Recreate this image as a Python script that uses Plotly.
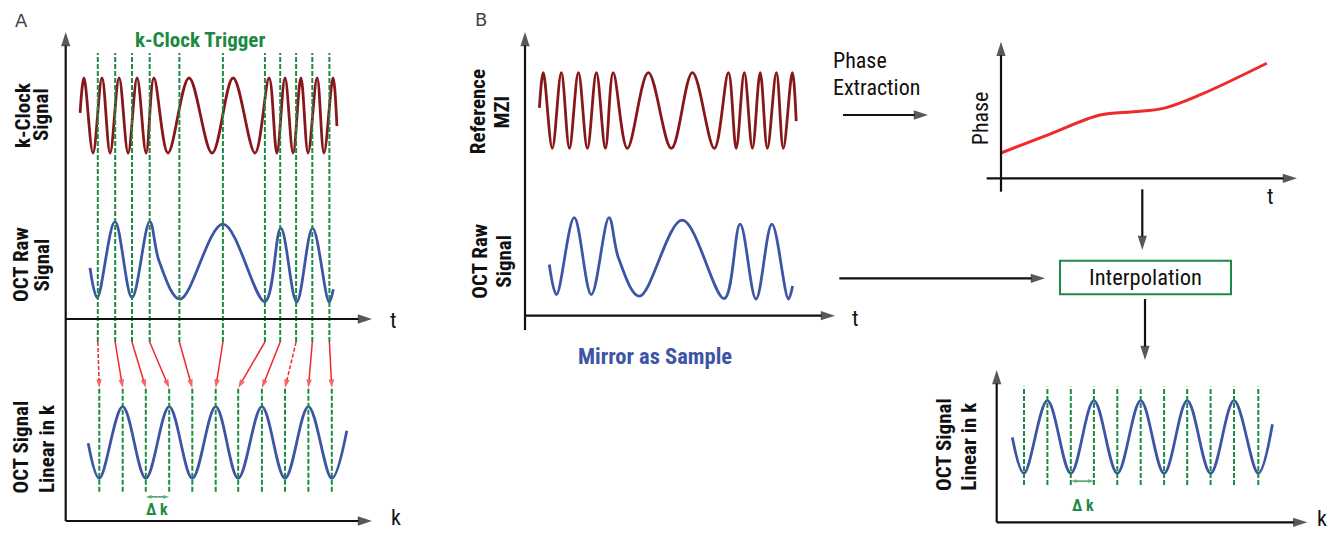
import plotly.graph_objects as go

W, H = 1339, 533

# ---------------- data ----------------
# chirped k-clock / reference-MZI signal: extrema (time units, normalised amplitude)
clock_t = [0.48, 0.61, 0.91, 1.21, 1.48, 1.78, 2.08, 2.38, 2.68, 2.94, 3.41, 4.11,
           4.88, 5.58, 6.31, 6.78, 7.04, 7.31, 7.58, 7.84, 8.08, 8.38, 8.61, 8.91, 9.04]
clock_v = [0.07, 1, -1, 1, -1, 1, -1, 1, -1, 1, -1, 1,
           -1, 1, -1, 1, -1, 1, -1, 1, -1, 1, -1, 1, -0.28]
# raw OCT signal (mirror as sample)
raw_t = [0.81, 1.05, 1.64, 2.21, 2.80, 3.12, 3.81, 5.24, 6.64, 7.17, 7.70, 8.23, 8.78, 8.92]
raw_v = [-0.15, -0.89, 1.0, -0.89, 1.0, 0.0, -0.93, 0.94, -0.99, 0.84, -1.0, 0.84, -1.0, -0.68]
# k-clock trigger instants
trigger_t = [1.07, 1.65, 2.21, 2.80, 3.79, 5.24, 6.64, 7.15, 7.68, 8.22, 8.79]
dashed_arrows = [0, 8]
# evenly spaced k samples (panel A) and the resampled signal
k_samples_a = [1.12, 1.90, 2.67, 3.45, 4.22, 5.00, 5.75, 6.54, 7.31, 8.09, 8.87]
lin_a_start = (0.75, -0.02)
lin_a_end = (9.37, 0.33)
# panel B result
k_samples_b = [0.91, 1.69, 2.47, 3.24, 4.02, 4.80, 5.58, 6.35, 7.13, 7.91, 8.72]
lin_b_start = (0.52, -0.01)
lin_b_end = (9.19, 0.35)
sample_levels = [-1, 1, -1, 1, -1, 1, -1, 1, -1, 1, -1]
# extracted phase vs time
phase_t = [0.02, 1.63, 3.30, 4.41, 5.41, 6.63, 8.86]
phase_v = [1.87, 3.24, 4.63, 4.87, 5.12, 6.10, 8.42]
dk_index = 2

# ---------------- styles ----------------
DARK_RED = '#86181b'
BLUE = '#3d55a5'
GREEN = '#1d8a43'
RED = '#ee2a2a'
BLACK = '#111111'
NARROW = 'Liberation Sans Narrow, Arial Narrow, Roboto Condensed, Liberation Sans, Arial, sans-serif'
PLAIN = 'DejaVu Sans, Liberation Sans, Arial, sans-serif'


def clamp(v):
    return max(0.0, min(1.0, v))


def xax(px0, px1, v0, v1, pad=15):
    s = (px1 - px0) / (v1 - v0)
    return dict(domain=[clamp((px0 - pad) / W), clamp((px1 + pad) / W)],
                range=[v0 - pad / s, v1 + pad / s], visible=False, fixedrange=True)


def yax(py_top, py_bot, v_top, v_bot, anchor, pad=15):
    s = (py_bot - py_top) / (v_top - v_bot)
    return dict(domain=[clamp(1 - (py_bot + pad) / H), clamp(1 - (py_top - pad) / H)],
                range=[v_bot - pad / s, v_top + pad / s], anchor=anchor,
                visible=False, fixedrange=True)


fig = go.Figure()

layout_axes = dict(
    xaxis=dict(**xax(65.7, 365.7, 0, 10), anchor='y'),
    xaxis2=dict(**xax(525, 825, 0, 10), anchor='y7'),
    xaxis3=dict(**xax(1001, 1301, 0, 10), anchor='y9'),
    xaxis4=dict(**xax(996.7, 1296.7, 0, 10), anchor='y10'),
    xaxis5=dict(domain=[0, 1], range=[0, W], visible=False, fixedrange=True, anchor='y12'),
    yaxis=yax(78, 153, 1, -1, 'x'),
    yaxis2=yax(221.7, 302, 1, -1, 'x'),
    yaxis3=yax(406.7, 478.3, 1, -1, 'x'),
    yaxis4=yax(53, 342, 1, 0, 'x'),
    yaxis5=yax(342, 388, 1, 0, 'x'),
    yaxis6=yax(388, 491.7, 1, 0, 'x'),
    yaxis7=yax(72.7, 148.3, 1, -1, 'x2'),
    yaxis8=yax(217.7, 299, 1, -1, 'x2'),
    yaxis9=yax(41.7, 178.3, 10, 0, 'x3'),
    yaxis10=yax(400.7, 473.3, 1, -1, 'x4'),
    yaxis11=yax(386.7, 485, 1, 0, 'x4'),
    yaxis12=dict(domain=[0, 1], range=[H, 0], visible=False, fixedrange=True, anchor='x5'),
)


def sig(x, y, xa, ya, color, width=2.8):
    fig.add_trace(go.Scatter(x=x, y=y, xaxis=xa, yaxis=ya, mode='lines',
                             line=dict(color=color, width=width, shape='spline', smoothing=1.0),
                             hoverinfo='skip', showlegend=False))


def vlines(xs, xa, ya):
    xx, yy = [], []
    for v in xs:
        xx += [v, v, None]
        yy += [0, 1, None]
    fig.add_trace(go.Scatter(x=xx, y=yy, xaxis=xa, yaxis=ya, mode='lines',
                             line=dict(color=GREEN, width=2, dash='5px,2px'),
                             hoverinfo='skip', showlegend=False))


def arrow(x, y, xa, ya, color, width, size, dash='solid'):
    fig.add_trace(go.Scatter(x=x, y=y, xaxis=xa, yaxis=ya, mode='lines+markers',
                             line=dict(color=color, width=width, dash=dash),
                             marker=dict(symbol='arrow', size=[0] * (len(x) - 1) + [size],
                                         angleref='previous', color=color, line=dict(width=0)),
                             hoverinfo='skip', showlegend=False))


# ---- panel A ----
sig(clock_t, clock_v, 'x', 'y', DARK_RED)
sig(raw_t, raw_v, 'x', 'y2', BLUE)
lin_a_k = [lin_a_start[0]] + k_samples_a + [lin_a_end[0]]
lin_a_v = [lin_a_start[1]] + sample_levels + [lin_a_end[1]]
sig(lin_a_k, lin_a_v, 'x', 'y3', BLUE)
vlines(trigger_t, 'x', 'y4')
for i, (t, k) in enumerate(zip(trigger_t, k_samples_a)):
    arrow([t, k], [1, 0], 'x', 'y5', RED, 1.5, 9, '4px,2px' if i in dashed_arrows else 'solid')
vlines(k_samples_a, 'x', 'y6')
mid_a = (k_samples_a[dk_index] + k_samples_a[dk_index + 1]) / 2
arrow([mid_a, k_samples_a[dk_index]], [-0.05, -0.05], 'x', 'y6', GREEN, 1.3, 6)
arrow([mid_a, k_samples_a[dk_index + 1]], [-0.05, -0.05], 'x', 'y6', GREEN, 1.3, 6)

# ---- panel B ----
sig(clock_t, clock_v, 'x2', 'y7', DARK_RED)
sig(raw_t, raw_v, 'x2', 'y8', BLUE)
sig(phase_t, phase_v, 'x3', 'y9', RED, 3)
lin_b_k = [lin_b_start[0]] + k_samples_b + [lin_b_end[0]]
lin_b_v = [lin_b_start[1]] + sample_levels + [lin_b_end[1]]
sig(lin_b_k, lin_b_v, 'x4', 'y10', BLUE)
vlines(k_samples_b, 'x4', 'y11')
mid_b = (k_samples_b[dk_index] + k_samples_b[dk_index + 1]) / 2
arrow([mid_b, k_samples_b[dk_index]], [0.04, 0.04], 'x4', 'y11', GREEN, 1.3, 6)
arrow([mid_b, k_samples_b[dk_index + 1]], [0.04, 0.04], 'x4', 'y11', GREEN, 1.3, 6)

# ---- diagram axes and flow arrows (canvas in pixels) ----
axis_arrows = [
    (65.7, 521, 65.7, 32), (65.7, 319, 372, 319), (65.7, 521, 372, 521),
    (525, 330, 525, 32), (525, 315.7, 835, 315.7),
    (1001, 191.7, 1001, 41.7), (986.7, 178.3, 1297, 178.3),
    (996.7, 522.3, 996.7, 370), (996.7, 522.3, 1307.3, 522.3),
]
for x0, y0, x1, y1 in axis_arrows:
    arrow([x0, x1], [y0, y1], 'x5', 'y12', BLACK, 2.2, 15)
flow_arrows = [
    (843, 115, 928, 115), (1142.3, 189.3, 1142.3, 250),
    (839.3, 278.3, 1045, 278.3), (1145, 299, 1145, 360),
]
for x0, y0, x1, y1 in flow_arrows:
    arrow([x0, x1], [y0, y1], 'x5', 'y12', BLACK, 2.2, 15)

fig.add_shape(type='rect', xref='x5', yref='y12', x0=1060, x1=1231, y0=260.7, y1=294.3,
              line=dict(color=GREEN, width=2), fillcolor='white', layer='below')


def txt(x, y, s, size, color=BLACK, bold=False, angle=0, family=NARROW, xanchor='center'):
    fig.add_annotation(x=x, y=y, xref='x5', yref='y12', text=s, showarrow=False,
                       textangle=angle, xanchor=xanchor, yanchor='middle',
                       font=dict(family=family, size=size, color=color,
                                 weight=700 if bold else 400))


txt(21.7, 20.3, 'A', 18, '#444444', family=PLAIN)
txt(481.3, 19.7, 'B', 18, '#444444', family=PLAIN)
txt(200, 40, 'k-Clock Trigger', 21, GREEN, bold=True)
# rotated axis titles
for s, x, y in [('k-Clock', 22.5, 115.5), ('Signal', 41, 115),
                ('OCT Raw', 21, 265), ('Signal', 41.5, 265),
                ('OCT Signal', 20, 447.5), ('Linear in k', 47, 449),
                ('Reference', 477.5, 111.7), ('MZI', 501, 112.5),
                ('OCT Raw', 480, 261.7), ('Signal', 504, 261.7),
                ('OCT Signal', 944, 445), ('Linear in k', 969, 446.7)]:
    txt(x, y, s, 21, bold=True, angle=-90)
txt(980, 118.3, 'Phase', 22, angle=-90)
txt(830.5, 60.5, 'Phase', 22, xanchor='left')
txt(830.5, 87, 'Extraction', 22, xanchor='left')
txt(1145, 277, 'Interpolation', 22.5)
txt(655, 356, 'Mirror as Sample', 22.5, BLUE, bold=True)
for s, x, y in [('t', 393, 320), ('k', 396, 517), ('t', 855.8, 318.3),
                ('t', 1270, 196.7), ('k', 1322, 518)]:
    txt(x, y, s, 22)
txt(157.3, 509, 'Δ k', 16, GREEN, bold=True)
txt(1082.5, 505, 'Δ k', 16, GREEN, bold=True)

fig.update_layout(width=W, height=H, margin=dict(l=0, r=0, t=0, b=0),
                  paper_bgcolor='white', plot_bgcolor='rgba(0,0,0,0)',
                  showlegend=False, hovermode=False, **layout_axes)

fig.write_html('out.html', config={'displayModeBar': False, 'staticPlot': True},
               post_script="document.body.style.margin='0';document.body.style.overflow='hidden';")
